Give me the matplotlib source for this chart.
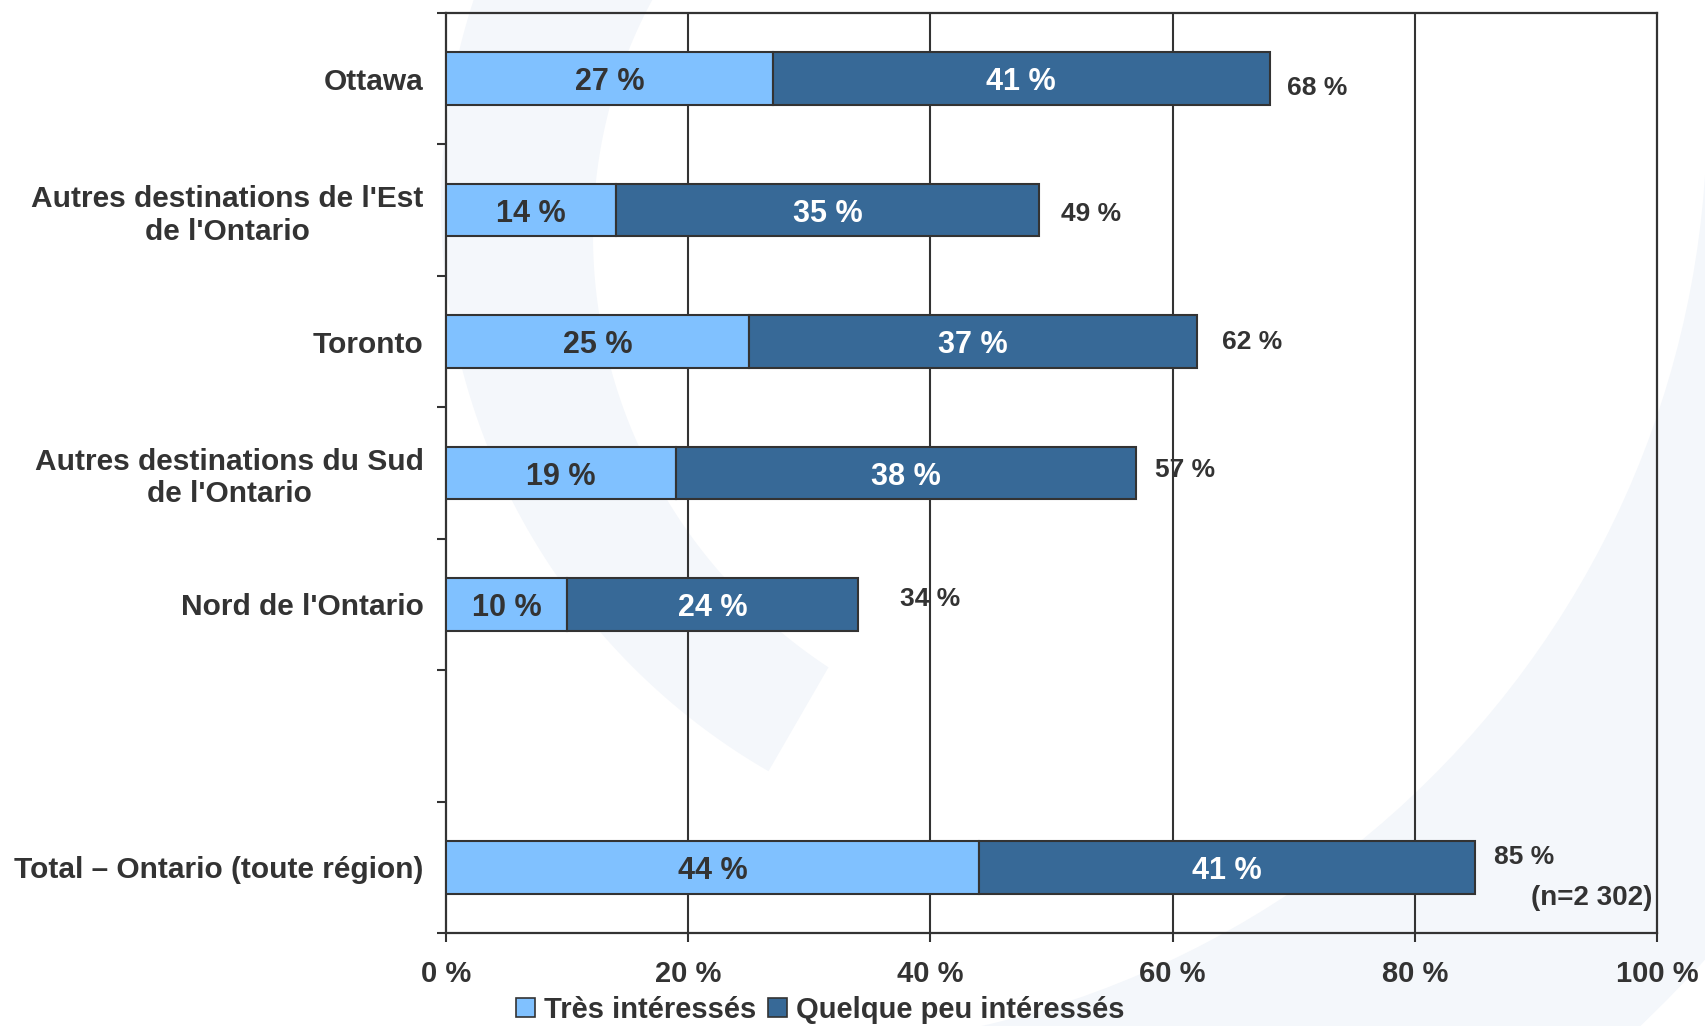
import matplotlib
matplotlib.use("Agg")
import numpy as np
import matplotlib.pyplot as plt
from matplotlib.patches import Patch, Polygon, Wedge

plt.rcParams['font.family'] = ['Liberation Sans', 'DejaVu Sans']
plt.rcParams['font.weight'] = 'bold'

# regions, top to bottom (None = blank row before the total)
regions = ["Ottawa",
           "Autres destinations de l'Est\nde l'Ontario",
           "Toronto",
           "Autres destinations du Sud\nde l'Ontario",
           "Nord de l'Ontario",
           None,
           "Total \u2013 Ontario (toute région)"]
tres = [27, 14, 25, 19, 10, None, 44]
quelque = [41, 35, 37, 38, 24, None, 41]
series_names = ["Très intéressés", "Quelque peu intéressés"]
xticks = [0, 20, 40, 60, 80, 100]
sample_note = "(n=2 302)"

light = '#80c1ff'
dark = '#376997'
ink = '#333333'

# nudges for the total labels (x in %, y in rows)
nudge_x = [3.9, 4.3, 4.6, 4, 6, 0, 4]
nudge_y = [0.07, 0.03, 0, -0.02, -0.04, 0, -0.08]

fig = plt.figure(figsize=(17.05, 10.26), dpi=100)

# faint background swoosh (inches, origin bottom-left)
bg = '#f4f7fb'
th = np.radians(np.linspace(140, 240, 120))
r_out = 6.55
r_in = np.linspace(4.8, 5.35, th.size)
cx, cy = 10.96, 8.22
outer = np.column_stack([cx + r_out * np.cos(th), cy + r_out * np.sin(th)])
inner = np.column_stack([cx + r_in * np.cos(th), cy + r_in * np.sin(th)])[::-1]
fig.patches.append(Polygon(np.vstack([outer, inner]), closed=True,
                           transform=fig.dpi_scale_trans, facecolor=bg,
                           edgecolor='none', zorder=0))
fig.patches.append(Wedge((7.71, 9.12), 12.6, -100, -3, width=3.24,
                         transform=fig.dpi_scale_trans, facecolor=bg,
                         edgecolor='none', zorder=0))

ax = fig.add_axes([0.2616, 0.0906, 0.9719 - 0.2616, 0.9873 - 0.0906])
ax.patch.set_alpha(0)
ax.set_zorder(2)

rows = [i for i, r in enumerate(regions) if r is not None]
h = 0.4
for i in rows:
    a, b = tres[i], quelque[i]
    ax.barh(i, a, height=h, color=light, edgecolor=ink, linewidth=1.5, zorder=3)
    ax.barh(i, b, left=a, height=h, color=dark, edgecolor=ink, linewidth=1.5, zorder=3)
    ax.text(a / 2, i, f"{a} %", ha='center', va='center_baseline', fontsize=22,
            color=ink, zorder=4)
    ax.text(a + b / 2, i, f"{b} %", ha='center', va='center_baseline', fontsize=22,
            color='white', zorder=4)
    ax.text(a + b + nudge_x[i], i + nudge_y[i], f"{a + b} %", ha='center',
            va='center', fontsize=19, color=ink, zorder=4)

ax.text(99.6, rows[-1] + 0.23, sample_note, ha='right', va='center',
        fontsize=20, color=ink, zorder=4)

ax.set_xlim(0, 100)
ax.set_ylim(len(regions) - 0.5, -0.5)

ax.set_xticks(xticks)
ax.set_xticklabels([f"{t} %" for t in xticks], fontsize=21, color=ink)
ax.tick_params(axis='x', length=6.5, width=1.5, color=ink, pad=13)

ax.set_yticks(rows)
ylabels = ax.set_yticklabels([regions[i] for i in rows], fontsize=21.5,
                             color=ink, linespacing=1.2)
for t in ylabels:
    t.set_multialignment('center')
ax.tick_params(axis='y', which='major', length=0, pad=16)
ax.set_yticks([k - 0.5 for k in range(len(regions) + 1)], minor=True)
ax.tick_params(axis='y', which='minor', length=6.5, width=1.5, color=ink)

for x in xticks[1:-1]:
    ax.axvline(x, color=ink, linewidth=1.5, zorder=1)
for s in ax.spines.values():
    s.set_color(ink)
    s.set_linewidth(1.6)

handles = [Patch(facecolor=light, edgecolor=ink, linewidth=1.2),
           Patch(facecolor=dark, edgecolor=ink, linewidth=1.2)]
fig.legend(handles, series_names, loc='center', bbox_to_anchor=(0.481, 0.0156),
           ncol=2, frameon=False, fontsize=21, handlelength=0.65,
           handleheight=0.65, handletextpad=0.3, columnspacing=0.4,
           labelcolor=ink)

fig.savefig('out.png', dpi=100)
